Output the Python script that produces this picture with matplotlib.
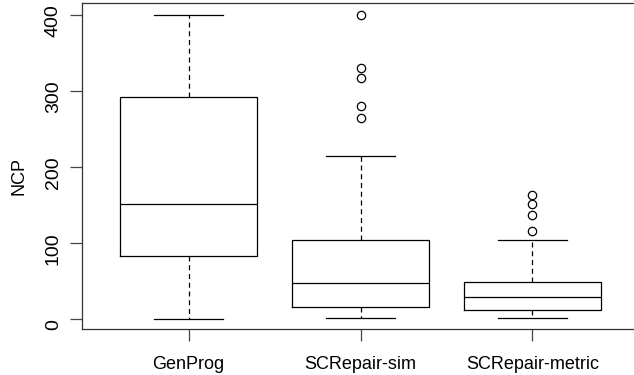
import matplotlib
matplotlib.use("Agg")
import matplotlib.pyplot as plt
from matplotlib.transforms import ScaledTranslation

# valores (estatisticas do boxplot)
names = ["GenProg", "SCRepair-sim", "SCRepair-metric"]
whislo = [0, 1.5, 1]
q1 = [82, 16, 11.5]
med = [150.5, 46.5, 28]
q3 = [292, 103, 49]
whishi = [400, 214, 104]
fliers = [[], [400, 330, 317, 280, 264], [163, 151, 136, 116]]

plt.rcParams['font.family'] = ['Liberation Sans', 'DejaVu Sans']

stats = []
for i in range(len(names)):
    stats.append(dict(label=names[i], whislo=whislo[i], q1=q1[i], med=med[i],
                      q3=q3[i], whishi=whishi[i], fliers=fliers[i]))

W, H = 634, 375
fig = plt.figure(figsize=(W / 100, H / 100), dpi=100)
left, right, top, bottom = 82, 82 + 557, 3.3, 328.8
ax = fig.add_axes([left / W, 1 - bottom / H, (right - left) / W, (bottom - top) / H])

lw = 0.9
ax.bxp(stats, positions=[1, 2, 3], widths=0.8, showfliers=True,
       boxprops=dict(color='black', linewidth=lw),
       medianprops=dict(color='black', linewidth=lw),
       whiskerprops=dict(color='black', linewidth=lw, linestyle=(0, (4, 3))),
       capprops=dict(color='black', linewidth=lw),
       capwidths=0.4,
       flierprops=dict(marker='o', markerfacecolor='none', markeredgecolor='black',
                       markersize=6, markeredgewidth=lw))

ax.set_xlim(0.38, 3.62)
ax.set_ylim(-13.2, 415)
ax.set_yticks([0, 100, 200, 300, 400])
ax.set_xticks([1, 2, 3])
ax.set_xticklabels(names, fontsize=13)
ax.tick_params(axis='y', labelsize=14, length=8.5, width=0.9, color='#444444', pad=6)
ax.tick_params(axis='x', length=8.5, width=0.9, color='#444444', pad=11)
# rotulos do eixo y na vertical, um pouco abaixo do tick como no original
shift = ScaledTranslation(0, -6 / 100, fig.dpi_scale_trans)
for lab in ax.get_yticklabels():
    lab.set_rotation(90)
    lab.set_va('center')
    lab.set_transform(lab.get_transform() + shift)
for s in ax.spines.values():
    s.set_linewidth(0.9)
    s.set_color('#333333')

fig.text(19 / W, 1 - 176 / H, "NCP", rotation=90, ha='center', va='center', fontsize=13)

fig.savefig("out.png", dpi=100)
